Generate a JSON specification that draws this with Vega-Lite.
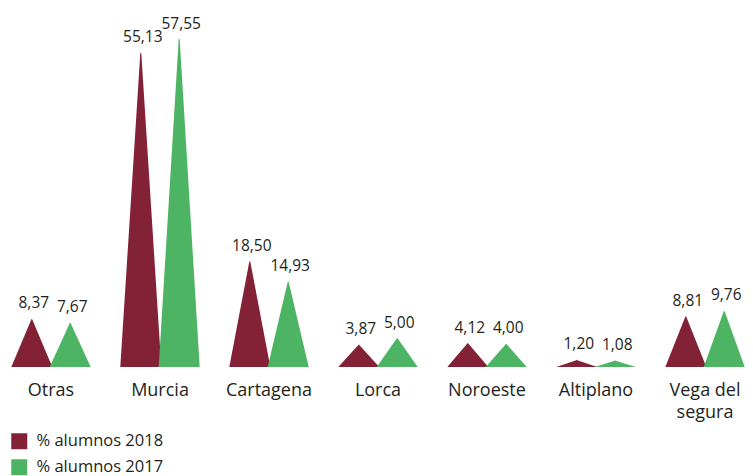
{
  "$schema": "https://vega.github.io/schema/vega-lite/v6.json",
  "width": 753,
  "height": 367,
  "autosize": {"type": "none"},
  "padding": {"left": 0, "top": 0, "right": 0, "bottom": 109},
  "background": "white",
  "config": {
    "view": {"stroke": null},
    "font": "Open Sans",
    "locale": {"number": {"decimal": ",", "thousands": ".", "grouping": [3], "currency": ["", " €"]}}
  },
  "data": {
    "values": [
      {"region": "Otras", "serie": "% alumnos 2018", "value": 8.37},
      {"region": "Otras", "serie": "% alumnos 2017", "value": 7.67},
      {"region": "Murcia", "serie": "% alumnos 2018", "value": 55.13},
      {"region": "Murcia", "serie": "% alumnos 2017", "value": 57.55},
      {"region": "Cartagena", "serie": "% alumnos 2018", "value": 18.50},
      {"region": "Cartagena", "serie": "% alumnos 2017", "value": 14.93},
      {"region": "Lorca", "serie": "% alumnos 2018", "value": 3.87},
      {"region": "Lorca", "serie": "% alumnos 2017", "value": 5.00},
      {"region": "Noroeste", "serie": "% alumnos 2018", "value": 4.12},
      {"region": "Noroeste", "serie": "% alumnos 2017", "value": 4.00},
      {"region": "Altiplano", "serie": "% alumnos 2018", "value": 1.20},
      {"region": "Altiplano", "serie": "% alumnos 2017", "value": 1.08},
      {"region": "Vega del segura", "serie": "% alumnos 2018", "value": 8.81},
      {"region": "Vega del segura", "serie": "% alumnos 2017", "value": 9.76}
    ]
  },
  "encoding": {
    "x": {
      "field": "region",
      "type": "nominal",
      "sort": ["Otras", "Murcia", "Cartagena", "Lorca", "Noroeste", "Altiplano", "Vega del segura"],
      "scale": {"range": [-3.5, 759.5], "paddingInner": 0, "paddingOuter": 0},
      "axis": {
        "title": null,
        "domain": false,
        "ticks": false,
        "labelAngle": 0,
        "labelFontSize": 18,
        "labelColor": "#231f20",
        "labelPadding": 14,
        "labelLineHeight": 22,
        "labelExpr": "datum.value == 'Vega del segura' ? ['Vega del', 'segura'] : datum.value"
      }
    },
    "xOffset": {
      "field": "serie",
      "type": "nominal",
      "scale": {"type": "point", "padding": 0, "domain": ["% alumnos 2018", "% alumnos 2017"], "range": [35.3, 73.7]}
    }
  },
  "layer": [
    {
      "transform": [
        {"stack": "value", "groupby": ["region", "serie"], "as": ["v0", "v1"]},
        {"fold": ["v0", "v1"], "as": ["key", "pos"]}
      ],
      "mark": {"type": "trail", "clip": true},
      "encoding": {
        "y": {"field": "pos", "type": "quantitative", "scale": {"domain": [0, 64.5], "nice": false, "zero": true}, "axis": null},
        "size": {"field": "key", "type": "ordinal", "scale": {"domain": ["v0", "v1"], "range": [41, 0]}, "legend": null},
        "fill": {
          "field": "serie",
          "type": "nominal",
          "scale": {"domain": ["% alumnos 2018", "% alumnos 2017"], "range": ["#832236", "#4db463"]},
          "legend": {
            "title": null,
            "orient": "none",
            "legendX": 11,
            "legendY": 433,
            "symbolType": "square",
            "symbolSize": 256,
            "symbolStrokeWidth": 0,
            "symbolOpacity": 1,
            "labelFontSize": 16.5,
            "labelColor": "#231f20",
            "labelOffset": 9,
            "rowPadding": 9
          }
        },
        "detail": {"field": "region"},
        "order": {"field": "key"}
      }
    },
    {
      "mark": {"type": "text", "dy": -11, "dx": 2, "fontSize": 15.5, "baseline": "alphabetic", "color": "#231f20"},
      "encoding": {
        "y": {"field": "value", "type": "quantitative", "scale": {"domain": [0, 64.5], "nice": false}, "axis": null},
        "text": {"field": "value", "type": "quantitative", "format": ".2f"}
      }
    }
  ]
}
